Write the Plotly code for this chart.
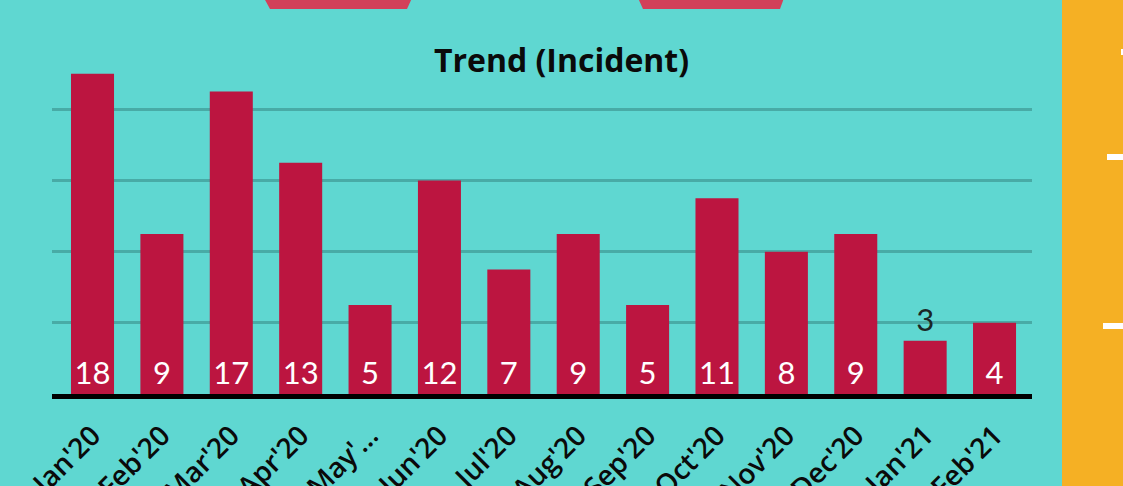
import plotly.graph_objects as go

months = ["Jan'20", "Feb'20", "Mar'20", "Apr'20", "May'20", "Jun'20", "Jul'20",
          "Aug'20", "Sep'20", "Oct'20", "Nov'20", "Dec'20", "Jan'21", "Feb'21"]
tick_labels = ["Jan'20", "Feb'20", "Mar'20", "Apr'20", "May'\u2026", "Jun'20", "Jul'20",
               "Aug'20", "Sep'20", "Oct'20", "Nov'20", "Dec'20", "Jan'21", "Feb'21"]
incidents = [18, 9, 17, 13, 5, 12, 7, 9, 5, 11, 8, 9, 3, 4]
label_pos = ["inside"] * 12 + ["outside", "inside"]
title_text = "Trend (Incident)"

W, H = 1123, 486
ML, MR, MT, MB = 52, 91, 56, 92
PW = W - ML - MR
PH = H - MT - MB

BG = "#5fd7d1"
BAR = "#bc1540"
GRID = "#48aba6"
ORANGE = "#f5b024"
TRAP = "#d2405a"


def px_x(x):
    return (x - ML) / PW


def px_y(y):
    return (H - MB - y) / PH


fig = go.Figure()
fig.add_trace(go.Bar(
    x=months, y=incidents,
    marker=dict(color=BAR, line=dict(width=0)),
    text=[str(v) for v in incidents],
    textposition=label_pos,
    insidetextanchor="start",
    textangle=0,
    constraintext="none",
    cliponaxis=False,
    insidetextfont=dict(family="Lato, sans-serif", size=31, color="white"),
    outsidetextfont=dict(family="Lato, sans-serif", size=31, color="#1b2626"),
    hoverinfo="skip",
))

shapes = []
# orange strip on the right
shapes.append(dict(type="rect", xref="paper", yref="paper",
                   x0=px_x(1062), x1=px_x(1130), y0=px_y(-5), y1=px_y(H + 5),
                   fillcolor=ORANGE, line=dict(width=0), layer="below"))
# white marks on orange strip
for (xa, yc) in [(1107, 157), (1103, 326), (1121, 52)]:
    shapes.append(dict(type="rect", xref="paper", yref="paper",
                       x0=px_x(xa), x1=px_x(1130), y0=px_y(yc + 3), y1=px_y(yc - 3),
                       fillcolor="white", line=dict(width=0), layer="above"))
# trapezoid tabs at top
for (t0, t1, b0, b1) in [(264, 412, 270, 407), (638, 784, 643, 780)]:
    path = (f"M {px_x(t0)} {px_y(-2)} L {px_x(t1)} {px_y(-2)} "
            f"L {px_x(b1)} {px_y(9)} L {px_x(b0)} {px_y(9)} Z")
    shapes.append(dict(type="path", xref="paper", yref="paper", path=path,
                       fillcolor=TRAP, line=dict(width=0), layer="above"))

fig.update_layout(
    width=W, height=H,
    margin=dict(l=ML, r=MR, t=MT, b=MB, pad=0),
    paper_bgcolor=BG, plot_bgcolor=BG,
    showlegend=False,
    bargap=0.38,
    title=dict(text=title_text, x=0.5, xref="container", y=1 - 61 / H, yref="container",
               xanchor="center", yanchor="middle",
               font=dict(family="Open Sans, sans-serif", size=32, color="#0a0a0a", weight="bold")),
    shapes=shapes,
    xaxis=dict(
        type="category",
        range=[-0.584, 13.54],
        tickmode="array", tickvals=months, ticktext=tick_labels,
        tickangle=-45,
        ticklabelstandoff=9,
        tickfont=dict(family="Open Sans, sans-serif", size=28, color="#0a0a0a", weight=600),
        showline=True, linecolor="black", linewidth=5,
        showgrid=False, ticks="", automargin=False, fixedrange=True,
    ),
    yaxis=dict(
        range=[0, 19],
        tickmode="array", tickvals=[4, 8, 12, 16],
        showticklabels=False, showgrid=True, gridcolor=GRID, gridwidth=3,
        zeroline=False, showline=False, automargin=False, fixedrange=True,
    ),
)

fig.write_html("out.html", config={"displayModeBar": False},
               post_script="document.body.style.margin='0';document.body.style.overflow='hidden';")
